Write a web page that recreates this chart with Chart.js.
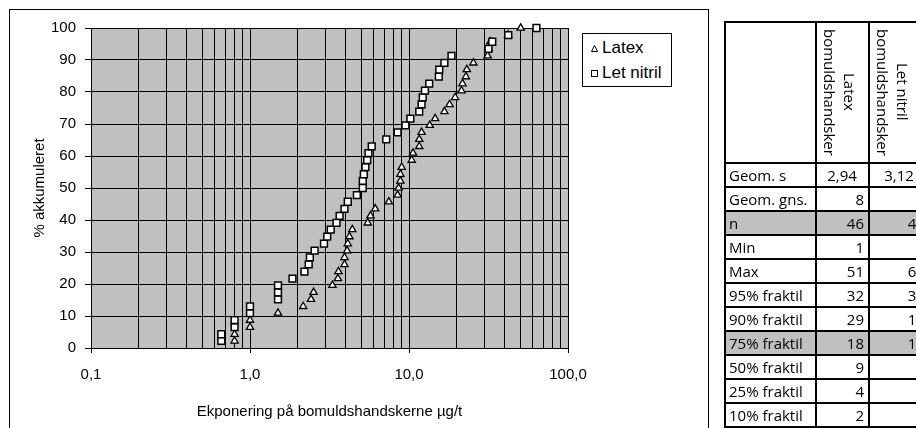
<!DOCTYPE html>
<html>
<head>
<meta charset="utf-8">
<script src="https://cdn.jsdelivr.net/npm/chart.js@4/dist/chart.umd.min.js"></script>
<style>
  body { margin: 0; width: 916px; height: 428px; overflow: hidden; background: #fff; position: relative;
         font-family: 'Liberation Sans', Arial, sans-serif; color: #000; }
  #frame { position: absolute; left: 9px; top: 9px; width: 700px; height: 440px; border: 1px solid #000; box-sizing: border-box; }
  #wrap { position: absolute; left: 0; top: 0; width: 708px; height: 428px; }
  #legend { position: absolute; left: 582px; top: 33px; width: 90px; height: 54px; border: 1px solid #000;
            background: #fff; box-sizing: border-box; font-size: 17px; line-height: 25px; padding: 1px 0 0 8px; }
  #legend div { white-space: nowrap; }
  #legend svg { margin-right: 4px; vertical-align: 1px; }
  #stats { position: absolute; left: 724px; top: 21px; width: 205px; border-collapse: collapse; table-layout: fixed;
           font-family: 'Open Sans', sans-serif; font-size: 15px; }
  #stats td, #stats th { border: 2px solid #000; padding: 0 4px 0 3px; height: 22px; line-height: 22px; white-space: nowrap; overflow: hidden; }
  #stats th { height: 133px; vertical-align: top; text-align: left; font-weight: normal; padding: 6px 2px 0 3px; }
  #stats .vt { writing-mode: vertical-rl; text-align: center; height: 126px; line-height: 20px; }
  #stats td.num { text-align: right; }
  #stats td.mid { text-align: center; }
  #stats tr.shade td { background: #c0c0c0; }
</style>
</head>
<body>
<div id="wrap"><canvas id="chart"></canvas></div>
<div id="frame"></div>
<div id="legend">
  <div><svg width="7" height="7"><polygon points="3.5,0.5 6.5,6.5 0.5,6.5" fill="#fff" stroke="#000" stroke-width="1"/></svg>Latex</div>
  <div><svg width="7" height="7"><rect x="0.5" y="0.5" width="6" height="6" fill="#fff" stroke="#000" stroke-width="1"/></svg>Let nitril</div>
</div>
<table id="stats">
  <colgroup><col style="width:91px"><col style="width:53px"><col style="width:61px"></colgroup>
  <thead>
    <tr>
      <th></th>
      <th><div class="vt">Latex<br>bomuldshandsker</div></th>
      <th><div class="vt">Let nitril<br>bomuldshandsker</div></th>
    </tr>
  </thead>
  <tbody id="statRows"></tbody>
</table>
<script>
// cumulative percent for rank 1..46 (same for both glove types)
const cumPct = [2.2, 4.3, 6.5, 8.7, 10.9, 13.0, 15.2, 17.4, 19.6, 21.7, 23.9, 26.1, 28.3, 30.4, 32.6,
                34.8, 37.0, 39.1, 41.3, 43.5, 45.7, 47.8, 50.0, 52.2, 54.3, 56.5, 58.7, 60.9, 63.0, 65.2,
                67.4, 69.6, 71.7, 73.9, 76.1, 78.3, 80.4, 82.6, 84.8, 87.0, 89.1, 91.3, 93.5, 95.7, 97.8, 100];

// sorted exposure values, µg/t
const latex = [0.8, 0.8, 1.0, 1.0, 1.5, 2.16, 2.42, 2.51, 3.3, 3.57, 3.6, 3.93, 3.93, 4.08, 4.12,
               4.22, 4.4, 5.5, 5.72, 6.13, 7.47, 8.48, 8.6, 8.83, 8.83, 9.0, 10.4, 10.6, 11.6, 11.6,
               12.0, 13.5, 14.6, 16.7, 18.0, 19.5, 21.4, 21.7, 22.8, 23.1, 25.4, 31.2, 31.6, 32.5, 42, 50.4];
const nitril = [0.66, 0.66, 0.8, 0.8, 1.0, 1.0, 1.5, 1.5, 1.5, 1.85, 2.2, 2.34, 2.38, 2.55, 2.92,
                3.06, 3.22, 3.5, 3.66, 3.93, 4.12, 4.7, 5.12, 5.12, 5.2, 5.32, 5.46, 5.56, 5.83, 7.19,
                8.48, 9.5, 10.2, 11.6, 12.0, 12.2, 12.6, 13.4, 15.4, 15.5, 16.7, 18.5, 31.6, 33.4, 42.1, 63.3];

// axis ticks
const xTickValues = [0.1, 1, 10, 100];
const xTickLabels = ['0,1', '1,0', '10,0', '100,0'];
const xGridSteps = [1, 2, 3, 4, 5, 6, 7, 8, 9];
const yTicks = [0, 10, 20, 30, 40, 50, 60, 70, 80, 90, 100];

// summary table
const statLabels = ['Geom. s', 'Geom. gns.', 'n', 'Min', 'Max', '95% fraktil', '90% fraktil',
                    '75% fraktil', '50% fraktil', '25% fraktil', '10% fraktil'];
const latexStats = ['2,94', '8', '46', '1', '51', '32', '29', '18', '9', '4', '2'];
const nitrilStats = ['3,12', '6', '46', '1', '64', '33', '18', '13', '5', '2', '1'];
const shadedRows = ['n', '75% fraktil'];

// build table rows
const tbody = document.getElementById('statRows');
statLabels.forEach((label, i) => {
    const tr = document.createElement('tr');
    if (shadedRows.includes(label)) tr.className = 'shade';
    const cls = i === 0 ? 'mid' : 'num';
    tr.innerHTML = `<td>${label}</td><td class="${cls}">${latexStats[i]}</td><td class="${cls}">${nitrilStats[i]}</td>`;
    tbody.appendChild(tr);
});

// log grid: 1..9 per decade, plus the last decade line
const xGrid = [];
xTickValues.slice(0, -1).forEach(d => xGridSteps.forEach(s => xGrid.push(Number((d * s).toPrecision(3)))));
xGrid.push(xTickValues[xTickValues.length - 1]);

const toPoints = (vals) => vals.map((v, i) => ({ x: v, y: cumPct[i] }));

const plotBackground = {
    id: 'plotBackground',
    beforeDraw(chart) {
        const { ctx, chartArea: a } = chart;
        ctx.save();
        ctx.fillStyle = '#c0c0c0';
        ctx.fillRect(a.left, a.top, a.right - a.left, a.bottom - a.top);
        ctx.restore();
    }
};

Chart.defaults.font.family = "'Liberation Sans', Arial, sans-serif";
Chart.defaults.color = '#000';

new Chart(document.getElementById('chart'), {
    type: 'scatter',
    data: {
        datasets: [{
            label: 'Latex',
            data: toPoints(latex),
            pointStyle: 'triangle',
            pointRadius: 4.2,
            backgroundColor: '#fff',
            borderColor: '#000',
            borderWidth: 1.3,
            clip: false,
            order: 1
        }, {
            label: 'Let nitril',
            data: toPoints(nitril),
            pointStyle: 'rect',
            pointRadius: 4.8,
            backgroundColor: '#fff',
            borderColor: '#000',
            borderWidth: 1.5,
            clip: false,
            order: 0
        }]
    },
    options: {
        responsive: true,
        maintainAspectRatio: false,
        animation: false,
        layout: { padding: { top: 28, right: 140, bottom: 0, left: 0 } },
        plugins: { legend: { display: false }, tooltip: { enabled: false } },
        scales: {
            x: {
                type: 'logarithmic',
                min: 0.1,
                max: 100,
                afterBuildTicks: s => { s.ticks = xGrid.map(v => ({ value: v, major: xTickValues.includes(v) })); },
                afterFit: s => { s.height = 80; },
                ticks: {
                    autoSkip: false,
                    maxRotation: 0,
                    padding: 13,
                    font: { size: 15 },
                    callback: (v) => {
                        const k = xTickValues.indexOf(Number(v));
                        return k >= 0 ? xTickLabels[k] : '';
                    }
                },
                grid: {
                    color: '#000',
                    lineWidth: 1,
                    tickLength: 5,
                    tickColor: c => (c.tick && xTickValues.includes(c.tick.value)) ? '#000' : 'rgba(0,0,0,0)'
                },
                border: { color: '#000', width: 1 },
                title: {
                    display: true,
                    text: 'Ekponering på bomuldshandskerne µg/t',
                    font: { size: 15 },
                    padding: { top: 0, bottom: 7 }
                }
            },
            y: {
                type: 'linear',
                min: 0,
                max: 100,
                afterBuildTicks: s => { s.ticks = yTicks.map(v => ({ value: v })); },
                afterFit: s => { s.width = 91; },
                ticks: { padding: 9, font: { size: 15 } },
                grid: { color: '#000', lineWidth: 1, tickLength: 6 },
                border: { color: '#000', width: 1 },
                title: {
                    display: true,
                    text: '% akkumuleret',
                    font: { size: 15 },
                    padding: { top: 31, bottom: 0 }
                }
            }
        }
    },
    plugins: [plotBackground]
});
</script>
</body>
</html>
